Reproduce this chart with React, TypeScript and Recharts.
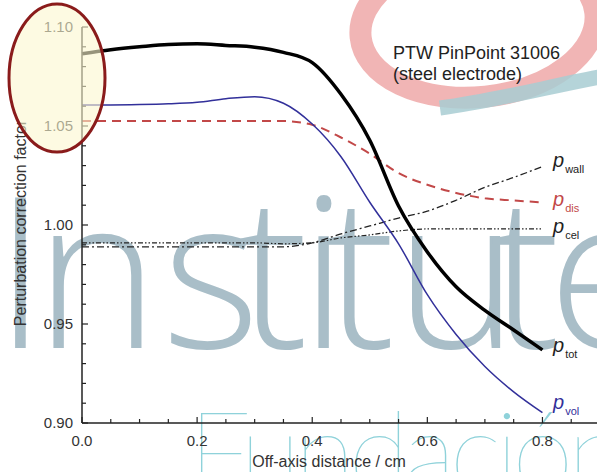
import React from 'react';
import { LineChart, Line, XAxis, YAxis } from 'recharts';

// off-axis distance (cm) and perturbation factors
const offAxis = [0, 0.05, 0.1, 0.15, 0.2, 0.25, 0.3, 0.35, 0.4, 0.45, 0.5, 0.55, 0.6, 0.65, 0.7, 0.75, 0.8];
const pTot = [1.0865, 1.0885, 1.09, 1.0912, 1.0915, 1.0907, 1.0898, 1.0872, 1.082, 1.066, 1.0428, 1.0096, 0.9864, 0.9688, 0.9569, 0.947, 0.9369];
const pVol = [1.0606, 1.0606, 1.0608, 1.0612, 1.062, 1.0638, 1.0648, 1.0615, 1.051, 1.0345, 1.0115, 0.9905, 0.9648, 0.9447, 0.9285, 0.9157, 0.9052];
const pDis = [1.0525, 1.0525, 1.0525, 1.0525, 1.0525, 1.0525, 1.0525, 1.0525, 1.0506, 1.0442, 1.036, 1.0262, 1.0203, 1.0162, 1.0135, 1.0124, 1.0114];
const pWall = [0.989, 0.989, 0.989, 0.989, 0.989, 0.989, 0.989, 0.989, 0.991, 0.9955, 0.9995, 1.0035, 1.007, 1.0125, 1.019, 1.024, 1.0295];
const pCel = [0.991, 0.991, 0.991, 0.991, 0.991, 0.991, 0.991, 0.9905, 0.991, 0.9935, 0.995, 0.997, 0.998, 0.998, 0.998, 0.998, 0.998];

const xTicks = [0, 0.05, 0.1, 0.15, 0.2, 0.25, 0.3, 0.35, 0.4, 0.45, 0.5, 0.55, 0.6, 0.65, 0.7, 0.75, 0.8, 0.85, 0.9];
const yTicks = [0.9, 0.91, 0.92, 0.93, 0.94, 0.95, 0.96, 0.97, 0.98, 0.99, 1.0, 1.01, 1.02, 1.03, 1.04, 1.05, 1.06, 1.07, 1.08, 1.09, 1.1];

const data = offAxis.map((x, i) => ({ x, tot: pTot[i], vol: pVol[i], dis: pDis[i], wall: pWall[i], cel: pCel[i] }));

const FONT = '"Liberation Sans", Arial, sans-serif';
const LEFT = 82;
const RIGHT = 600;
const TOP = 27;
const BOTTOM = 423;
const AXIS = '#222';

const isMajorX = (v: number) => Math.abs(v * 5 - Math.round(v * 5)) < 1e-6;
const isMajorY = (v: number) => Math.abs(v * 20 - Math.round(v * 20)) < 1e-6;

function BottomTick({ x, payload }: any) {
    const major = isMajorX(payload.value);
    return <g>
        <line x1={x} x2={x} y1={BOTTOM} y2={BOTTOM - (major ? 6 : 4)} stroke={AXIS} strokeWidth={1.2} />
        {major && payload.value < 0.85 ? <text x={x} y={446} textAnchor="middle" fontSize={15} fontFamily={FONT} fill="#333">{payload.value.toFixed(1)}</text> : null}
    </g>;
}

function TopTick({ x, payload }: any) {
    const major = isMajorX(payload.value);
    return <line x1={x} x2={x} y1={TOP} y2={TOP + (major ? 6 : 4)} stroke={AXIS} strokeWidth={1.2} />;
}

function LeftTick({ y, payload }: any) {
    const major = isMajorY(payload.value);
    return <g>
        <line x1={LEFT} x2={LEFT + (major ? 6 : 4)} y1={y} y2={y} stroke={AXIS} strokeWidth={1.2} />
        {major ? <text x={73} y={y + 5} textAnchor="end" fontSize={15} fontFamily={FONT} fill="#333">{payload.value.toFixed(2)}</text> : null}
    </g>;
}

function RightTick({ y, payload }: any) {
    const major = isMajorY(payload.value);
    return <line x1={RIGHT} x2={RIGHT - (major ? 6 : 4)} y1={y} y2={y} stroke={AXIS} strokeWidth={1.2} />;
}

function PLabel({ x, y, sub, color }: { x: number; y: number; sub: string; color: string }) {
    return <text x={x} y={y} fontFamily={FONT} fill={color}>
        <tspan fontSize={20} fontStyle="italic">p</tspan>
        <tspan fontSize={11} dx={1} dy={6}>{sub}</tspan>
    </text>;
}

export default function App() {
    return (
        <div style={{ position: 'absolute', left: 0, top: 0, width: 597, height: 472, overflow: 'hidden', background: '#fff' }}>
            <svg width={597} height={472} style={{ position: 'absolute', left: 0, top: 0 }}>
                <text x="-6 35 162 238 300 325 395 490 548" y={348} fontSize={210} fontFamily='"Open Sans", sans-serif' fontWeight={340} fill="#a9bec8">Institute</text>
                <text x={188} y={492} fontSize={112} fontFamily="Lato, sans-serif" fontWeight={200} fill="#8fd2da" textLength={440} lengthAdjust="spacing">Fundación</text>
                <ellipse cx={478} cy={25} rx={118} ry={72} transform="rotate(-6 478 25)" fill="none" stroke="#eea3a3" strokeWidth={22} opacity={0.8} />
                <path d="M 440 108 C 500 100, 550 86, 605 76" fill="none" stroke="#a8ccd2" strokeWidth={15} opacity={0.85} />
            </svg>
            <div style={{ position: 'absolute', left: 0, top: 0 }}>
                <LineChart width={610} height={472} data={data} margin={{ top: TOP, right: 10, bottom: 0, left: 0 }}>
                    <XAxis xAxisId="bottom" type="number" dataKey="x" domain={[0, 0.9]} ticks={xTicks} interval={0}
                        height={49} tickLine={false} tick={<BottomTick />} axisLine={{ stroke: AXIS, strokeWidth: 1.5 }} />
                    <XAxis xAxisId="top" orientation="top" type="number" dataKey="x" domain={[0, 0.9]} ticks={xTicks} interval={0}
                        height={0} tickLine={false} tick={<TopTick />} axisLine={{ stroke: AXIS, strokeWidth: 1.5 }} />
                    <YAxis yAxisId="left" type="number" domain={[0.9, 1.1]} ticks={yTicks} interval={0}
                        width={LEFT} tickLine={false} tick={<LeftTick />} axisLine={{ stroke: AXIS, strokeWidth: 1.5 }} />
                    <YAxis yAxisId="right" orientation="right" type="number" domain={[0.9, 1.1]} ticks={yTicks} interval={0}
                        width={0} tickLine={false} tick={<RightTick />} axisLine={{ stroke: AXIS, strokeWidth: 1.5 }} />
                    <Line xAxisId="bottom" yAxisId="left" type="monotone" dataKey="cel" stroke="#222" strokeWidth={1.2}
                        strokeDasharray="5 2 1.5 2 1.5 2" dot={false} isAnimationActive={false} />
                    <Line xAxisId="bottom" yAxisId="left" type="monotone" dataKey="wall" stroke="#222" strokeWidth={1.3}
                        strokeDasharray="7 3 2 3" dot={false} isAnimationActive={false} />
                    <Line xAxisId="bottom" yAxisId="left" type="monotone" dataKey="dis" stroke="#c24848" strokeWidth={2}
                        strokeDasharray="9 6" dot={false} isAnimationActive={false} />
                    <Line xAxisId="bottom" yAxisId="left" type="monotone" dataKey="vol" stroke="#32309a" strokeWidth={1.5}
                        dot={false} isAnimationActive={false} />
                    <Line xAxisId="bottom" yAxisId="left" type="monotone" dataKey="tot" stroke="#000" strokeWidth={3.5}
                        dot={false} isAnimationActive={false} />
                </LineChart>
            </div>
            <svg width={597} height={472} style={{ position: 'absolute', left: 0, top: 0 }}>
                <text x={393} y={59} fontSize={18} fontFamily={FONT} fill="#222">PTW PinPoint 31006</text>
                <text x={393} y={80} fontSize={18} fontFamily={FONT} fill="#222">(steel electrode)</text>
                <PLabel x={553} y={167} sub="wall" color="#222" />
                <PLabel x={553} y={206} sub="dis" color="#c24848" />
                <PLabel x={553} y={233} sub="cel" color="#222" />
                <PLabel x={553} y={352} sub="tot" color="#222" />
                <PLabel x={553} y={409} sub="vol" color="#32309a" />
                <text x={329} y={467} textAnchor="middle" fontSize={16} fontFamily={FONT} fill="#333">Off-axis distance / cm</text>
                <text transform="translate(26,223) rotate(-90)" textAnchor="middle" fontSize={16} fontFamily={FONT} fill="#333">Perturbation correction factor</text>
                <ellipse cx={57} cy={78} rx={48} ry={74} fill="#fbf6cf" fillOpacity={0.6} stroke="#8a1b1b" strokeWidth={3} />
            </svg>
        </div>
    );
}
